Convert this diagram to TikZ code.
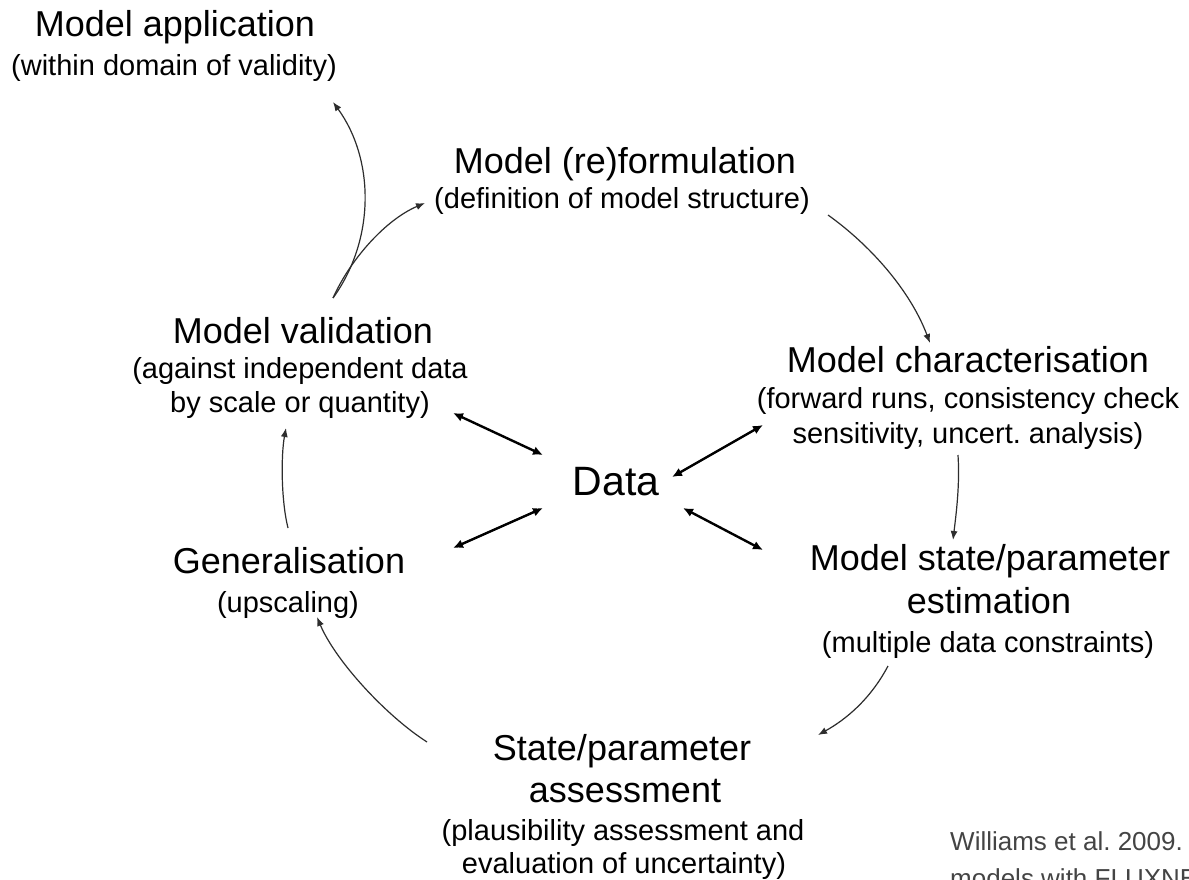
\documentclass[tikz,border=0pt]{standalone}
\usepackage{fontspec}
\setmainfont{Liberation Sans}
\usetikzlibrary{arrows.meta}
\definecolor{citegray}{RGB}{68,68,68}
\definecolor{linegray}{RGB}{45,45,45}
\tikzset{
  ttl/.style={anchor=base, inner sep=0pt, font=\fontsize{36}{36}\selectfont},
  sub/.style={anchor=base, inner sep=0pt, font=\fontsize{29}{29}\selectfont},
  datal/.style={anchor=base, inner sep=0pt, font=\fontsize{41}{41}\selectfont},
  cite/.style={anchor=base west, inner sep=0pt, text=citegray, font=\fontsize{26}{26}\selectfont},
  cyc/.style={draw=linegray, line width=1.2pt, -{Latex[length=9pt,width=7pt]}},
  dbl/.style={draw=black, line width=2.4pt, {Latex[length=10pt,width=9pt]}-{Latex[length=10pt,width=9pt]}}
}
\frenchspacing
\begin{document}
\begin{tikzpicture}[x=1pt,y=-1pt]
\useasboundingbox (0,0) rectangle (1189,880);
\clip (0,0) rectangle (1189,880);
\fill[white] (0,0) rectangle (1189,880);

% Model application
\node[ttl] (app) at (175,37) {Model application};
\node[sub] (appS) at (174,76) {(within domain of validity)};
% Model (re)formulation
\node[ttl] (form) at (625,174) {Model (re)formulation};
\node[sub] (formS) at (622,208) {(definition of model structure)};
% Model validation
\node[ttl] (val) at (303,343) {Model validation};
\node[sub] (valS1) at (300,378) {(against independent data};
\node[sub] (valS2) at (300,412) {by scale or quantity)};
% Model characterisation
\node[ttl] (char) at (968,372) {Model characterisation};
\node[sub] (charS1) at (968,408) {(forward runs, consistency check};
\node[sub] (charS2) at (968,443) {sensitivity, uncert. analysis)};
% Data
\node[datal] (data) at (616,495) {Data};
% Generalisation
\node[ttl] (gen) at (289,573) {Generalisation};
\node[sub] (genS) at (288,612) {(upscaling)};
% Model state/parameter estimation
\node[ttl] (est) at (990,570) {Model state/parameter};
\node[ttl] (est2) at (989,613) {estimation};
\node[sub] (estS) at (988,652) {(multiple data constraints)};
% State/parameter assessment
\node[ttl] (ass) at (622,760) {State/parameter};
\node[ttl] (ass2) at (625,802) {assessment};
\node[sub] (assS1) at (623,840) {(plausibility assessment and};
\node[sub] (assS2) at (624,873) {evaluation of uncertainty)};
% citation
\node[cite] (cite1) at (950,850) {Williams et al. 2009.};
\node[cite] (cite2) at (950,887) {models with FLUXNET};

% connector end points
\coordinate (valTop) at (333,298);
\coordinate (appBot) at (333,102);
\coordinate (formL) at (425,203);
\coordinate (formR) at (828,215);
\coordinate (charTop) at (930,343);
\coordinate (charBot) at (958,455);
\coordinate (estTop) at (953,540);
\coordinate (estBot) at (888,666);
\coordinate (assTop) at (818,735);
\coordinate (assL) at (427,742);
\coordinate (genBot) at (317,617);
\coordinate (genTop) at (288,528);
\coordinate (valBot) at (286,428);
\coordinate (dVal) at (453,413);
\coordinate (dValIn) at (543,455);
\coordinate (dChar) at (763,425);
\coordinate (dCharIn) at (672,477);
\coordinate (dGen) at (453,548);
\coordinate (dGenIn) at (543,508);
\coordinate (dEst) at (763,550);
\coordinate (dEstIn) at (683,508);

% cycle arrows
\draw[cyc] (valTop) .. controls (375,240) and (375,160) .. (appBot);
\draw[cyc] (valTop) .. controls (350,260) and (385,220) .. (formL);
\draw[cyc] (formR) .. controls (870,245) and (910,290) .. (charTop);
\draw[cyc] (charBot) .. controls (960,485) and (956,515) .. (estTop);
\draw[cyc] (estBot) .. controls (870,700) and (845,720) .. (assTop);
\draw[cyc] (assL) .. controls (385,715) and (335,660) .. (genBot);
\draw[cyc] (genTop) .. controls (281,500) and (281,455) .. (valBot);

% data arrows
\draw[dbl] (dVal) -- (dValIn);
\draw[dbl] (dCharIn) -- (dChar);
\draw[dbl] (dGen) -- (dGenIn);
\draw[dbl] (dEstIn) -- (dEst);
\end{tikzpicture}
\end{document}
